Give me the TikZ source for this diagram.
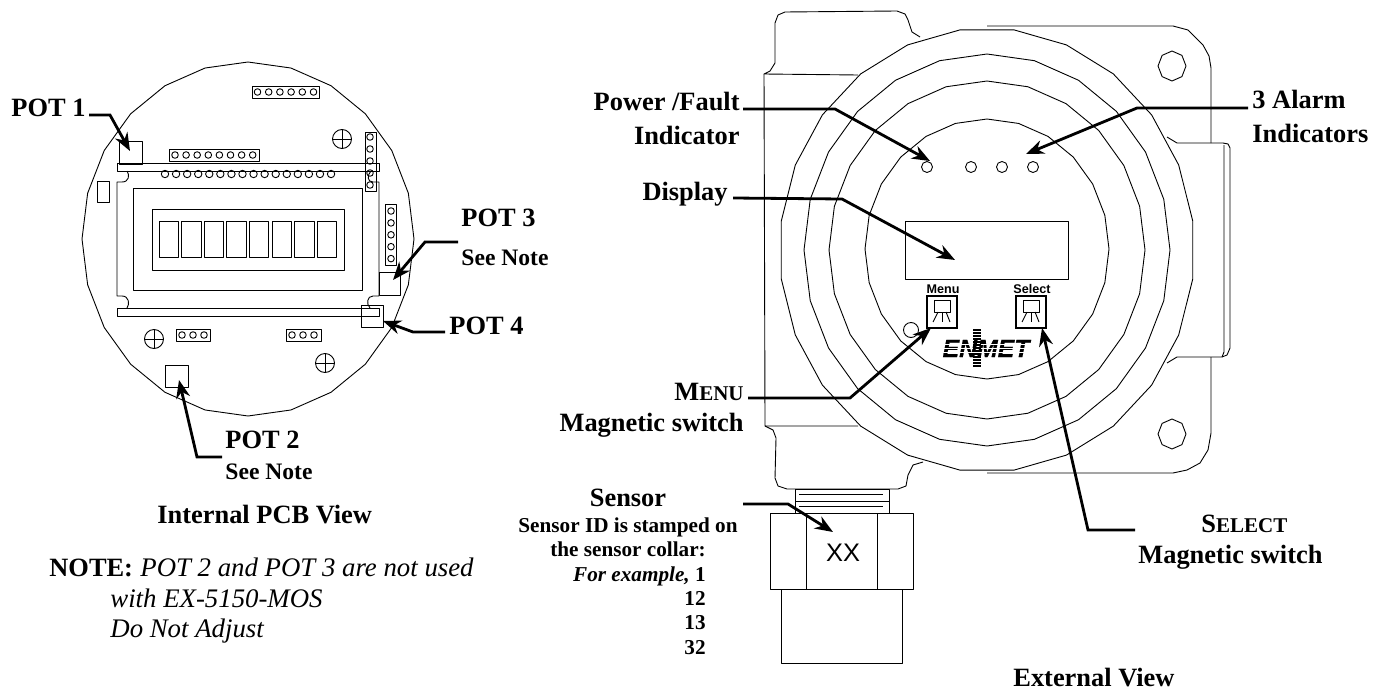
\documentclass[tikz,border=0pt]{standalone}
\usepackage{fontspec}
\setmainfont{Liberation Serif}
\newfontfamily\sansfam{Liberation Sans}
\newfontfamily\logofam[FakeBold=0.6]{Liberation Sans}
\usetikzlibrary{arrows.meta}
\tikzset{
  thinline/.style={draw=black, line width=0.45pt, line join=round},
  heavybox/.style={draw=black, line width=1.2pt},
  leader/.style={draw=black, line width=1.4pt, -{Stealth[length=9pt,width=7pt]}},
  biglabel/.style={inner sep=0pt, font=\bfseries\fontsize{13.2}{15}\selectfont},
  midlabel/.style={inner sep=0pt, font=\bfseries\fontsize{11.8}{14}\selectfont},
  smalllabel/.style={inner sep=0pt, font=\bfseries\fontsize{10.6}{12}\selectfont},
  notelabel/.style={inner sep=0pt, font=\itshape\fontsize{13.4}{15}\selectfont},
  switchlabel/.style={inner sep=0pt, font=\sansfam\bfseries\fontsize{6.3}{7}\selectfont},
}
\begin{document}
\begin{tikzpicture}[x=0.5pt,y=-0.5pt]
        \useasboundingbox (0,0) rectangle (1384,690);
        % internal PCB
        \draw[thinline, domain=90:450, samples=25, variable=\t] plot ({248+166*cos(\t)},{239+177*sin(\t)}) -- cycle;
        \draw[thinline] (119,141) rectangle (142,164);
        \draw[thinline] (379,272) rectangle (400,295);
        \draw[thinline] (361,305) rectangle (383,327);
        \draw[thinline] (165,365) rectangle (188,387);
        \draw[thinline] (97,181) rectangle (109,202);
        % display module
        \draw[thinline] (117,163) rectangle (379,171);
        \draw[thinline] (117,308) rectangle (379,316);
        \draw[thinline] (127,171) .. controls (130,175) and (129,182) .. (122,182) -- (117,182) -- (117,296)
            -- (122,296) .. controls (129,296) and (130,304) .. (127,308);
        \draw[thinline] (371,171) .. controls (367,175) and (367,182) .. (373,182) -- (379,182) -- (379,296)
            -- (373,296) .. controls (367,296) and (366,304) .. (370,308);
        \draw[thinline] (133,188) rectangle (362,290);
        \draw[thinline] (152,209) rectangle (344,270);
        \foreach \i in {0,...,7}
            \draw[thinline] ({159+22.6*\i},221) rectangle ({178.5+22.6*\i},257);
        % headers
        \draw[thinline] (252,86) rectangle (319,98);
        \foreach \i in {0,...,5}
            \draw[thinline] ({257.5+11.2*\i},92) circle (3.3);
        \draw[thinline] (169,149) rectangle (259,161);
        \foreach \i in {0,...,7}
            \draw[thinline] ({175+11.1*\i},155) circle (3.3);
        \foreach \i in {0,...,15}
            \draw[thinline] ({165+11.07*\i},174) circle (3.7);
        \draw[thinline] (365,132) rectangle (376,191);
        \foreach \i in {0,...,4}
            \draw[thinline] (370,{137+12*\i}) circle (3.3);
        \draw[thinline] (385,204) rectangle (396,265);
        \foreach \i in {0,...,4}
            \draw[thinline] (391,{211+11.9*\i}) circle (3.3);
        \draw[thinline] (176,329) rectangle (210,341);
        \foreach \x in {182,193,204}
            \draw[thinline] (\x,335) circle (3.3);
        \draw[thinline] (286,329) rectangle (321,341);
        \foreach \x in {292,303,314}
            \draw[thinline] (\x,335) circle (3.3);
        % mounting holes
        \foreach \x/\y in {342/139,154/339,325/363} {
            \draw[thinline] (\x,\y) circle (9.5);
            \draw[thinline] (\x-9.5,\y) -- (\x+9.5,\y);
            \draw[thinline] (\x,\y-9.5) -- (\x,\y+9.5);
        }
        % housing
        \draw[thinline] (858,75) -- (764,74) -- (770,71) -- (775,63) -- (775,23) -- (778,15) -- (785,12) -- (897,11)
            -- (905,14) -- (908,20) -- (912,32) -- (920,37);
        \draw[thinline] (764,74) -- (765,426) -- (858,426);
        \draw[thinline] (765,426) -- (773,430) -- (776,438) -- (775,478) -- (778,486) -- (787,489) -- (898,489)
            -- (906,486) -- (908,475) -- (913,465) -- (923,462);
        \draw[thinline] (987,26) -- (1173,26) -- (1188,30) -- (1203,45) -- (1209,56) -- (1211,68) -- (1211,143);
        \draw[thinline] (1167,137) -- (1177,143) -- (1223,143) -- (1228,144) -- (1230,148) -- (1230,348) -- (1227,355) -- (1222,357) -- (1177,357) -- (1167,363);
        \draw[thinline] (1224,145) -- (1224,352) -- (1222,357);
        \draw[thinline] (1211,357) -- (1211,433) -- (1208,450) -- (1200,463) -- (1187,470) -- (1173,473) -- (987,473);
        \draw[thinline, domain=97.5:457.5, samples=25, variable=\t] plot ({987+207.5*cos(\t)},{250+222*sin(\t)}) -- cycle;
        \draw[thinline, domain=90:450, samples=25, variable=\t] plot ({987+183*cos(\t)},{250+196*sin(\t)}) -- cycle;
        \draw[thinline, domain=90:450, samples=25, variable=\t] plot ({987+158*cos(\t)},{250+169*sin(\t)}) -- cycle;
        \draw[thinline, domain=90:450, samples=25, variable=\t] plot ({987+122*cos(\t)},{249+130*sin(\t)}) -- cycle;
        \foreach \y in {66,434}
            \draw[thinline, domain=90:450, samples=9, variable=\t] plot ({1172+14*cos(\t)},{\y+15*sin(\t)}) -- cycle;
        % indicators, display and switches
        \foreach \x in {927,971,1002,1033}
            \draw[thinline] (\x,167) circle (5.5);
        \draw[thinline] (911,330) circle (7.5);
        \draw[thinline] (905,221) rectangle (1068,279);
        \foreach \x in {0,89} {
            \draw[heavybox] (927+\x,296) rectangle (957+\x,328);
            \draw[thinline] (934+\x,300) rectangle (950+\x,312);
            \draw[thinline] (938+\x,312) -- (933+\x,322);
            \draw[thinline] (942+\x,312) -- (942+\x,322);
            \draw[thinline] (946+\x,312) -- (950+\x,322);
        }
        \node[switchlabel, anchor=base] (menutag) at (943,293) {Menu};
        \node[switchlabel, anchor=base] (selecttag) at (1032,293) {Select};
        % logo
        \node[inner sep=0pt, anchor=base, font=\logofam\bfseries\itshape\fontsize{12.4}{13}\selectfont] (logo) at (986,357) {ENMET};
        \foreach \y in {344,348,352}
            \draw[white, line width=0.3pt] (940,\y) -- (1034,\y);
        \foreach \y in {330,333,...,366}
            \draw[black, line width=0.8pt] (973,\y) -- (981,\y);
        % sensor
        \draw[thinline] (795,489) rectangle (889,513);
        \draw[thinline] (795,501) -- (889,501);
        \draw[thinline] (799,494) -- (883,494);
        \draw[thinline] (799,506) -- (883,506);
        \draw[thinline, fill=white] (770,513) rectangle (913,589);
        \draw[thinline] (806,513) -- (806,589);
        \draw[thinline] (877,513) -- (877,589);
        \draw[thinline] (781,589) rectangle (902,663);
        \node[inner sep=0pt, anchor=base, font=\sansfam\fontsize{12.7}{14}\selectfont] (sensorid) at (843,561) {XX};
        % labels
        \node[biglabel, anchor=base west] (potone) at (11,117) {POT 1};
        \node[biglabel, anchor=base west] (potthree) at (461,226) {POT 3};
        \node[midlabel, anchor=base west] (potthreenote) at (461,265) {See Note};
        \node[biglabel, anchor=base west] (potfour) at (449,334) {POT 4};
        \node[biglabel, anchor=base west] (pottwo) at (225,448) {POT 2};
        \node[midlabel, anchor=base west] (pottwonote) at (225,479) {See Note};
        \node[biglabel, anchor=base west] (pcbview) at (157,523) {Internal PCB View};
        \node[biglabel, anchor=base west] (notehead) at (49,576) {NOTE:};
        \node[notelabel, anchor=base west] (noteone) at (140,576) {POT 2 and POT 3 are not used};
        \node[notelabel, anchor=base west] (notetwo) at (110,607) {with EX-5150-MOS};
        \node[notelabel, anchor=base west] (notethree) at (110,637) {Do Not Adjust};
        \node[biglabel, anchor=base east] (power) at (740,111) {Power /Fault};
        \node[biglabel, anchor=base east] (powertwo) at (740,144) {Indicator};
        \node[biglabel, anchor=base east] (display) at (728,200) {Display};
        \node[biglabel, anchor=base west] (alarm) at (1252,108) {3 Alarm};
        \node[biglabel, anchor=base west] (alarmtwo) at (1252,142) {Indicators};
        \node[biglabel, anchor=base east] (menu) at (744,400) {M{\fontsize{10.5}{12}\selectfont ENU}};
        \node[biglabel, anchor=base east] (menutwo) at (744,431) {Magnetic switch};
        \node[biglabel, anchor=base west] (select) at (1201,532) {S{\fontsize{10.5}{12}\selectfont ELECT}};
        \node[biglabel, anchor=base west] (selecttwo) at (1138,563) {Magnetic switch};
        \node[biglabel, anchor=base] (sensor) at (628,506) {Sensor};
        \node[smalllabel, anchor=base] (sensorone) at (628,532) {Sensor ID is stamped on};
        \node[smalllabel, anchor=base] (sensortwo) at (628,556) {the sensor collar:};
        \node[smalllabel, anchor=base east] (sensorthree) at (706,581) {\textit{For example,} 1};
        \node[smalllabel, anchor=base east] (sensorfour) at (706,605) {12};
        \node[smalllabel, anchor=base east] (sensorfive) at (706,629) {13};
        \node[smalllabel, anchor=base east] (sensorsix) at (706,654) {32};
        \node[biglabel, anchor=base west] (extview) at (1013,686) {External View};
        % leaders
        \coordinate (potoneA) at (89,115);
        \coordinate (potoneB) at (110,115);
        \coordinate (potoneC) at (130,151);
        \coordinate (potthreeA) at (458,242);
        \coordinate (potthreeB) at (425,242);
        \coordinate (potthreeC) at (393,280);
        \coordinate (potfourA) at (445,332);
        \coordinate (potfourB) at (413,332);
        \coordinate (potfourC) at (383,321);
        \coordinate (pottwoA) at (222,457);
        \coordinate (pottwoB) at (197,457);
        \coordinate (pottwoC) at (179,380);
        \coordinate (powerA) at (743,109);
        \coordinate (powerB) at (835,109);
        \coordinate (powerC) at (930,161);
        \coordinate (alarmA) at (1248,108);
        \coordinate (alarmB) at (1137,108);
        \coordinate (alarmC) at (1026,154);
        \coordinate (displayA) at (733,198);
        \coordinate (displayB) at (842,199);
        \coordinate (displayC) at (955,260);
        \coordinate (menuA) at (748,398);
        \coordinate (menuB) at (850,398);
        \coordinate (menuC) at (931,328);
        \coordinate (selectA) at (1135,530);
        \coordinate (selectB) at (1088,530);
        \coordinate (selectC) at (1042,328);
        \coordinate (sensorA) at (743,504);
        \coordinate (sensorB) at (788,504);
        \coordinate (sensorC) at (833,532);
        \foreach \n in {potone,potthree,potfour,pottwo,power,alarm,display,menu,select,sensor}
            \draw[leader] (\n A) -- (\n B) -- (\n C);
\end{tikzpicture}
\end{document}
